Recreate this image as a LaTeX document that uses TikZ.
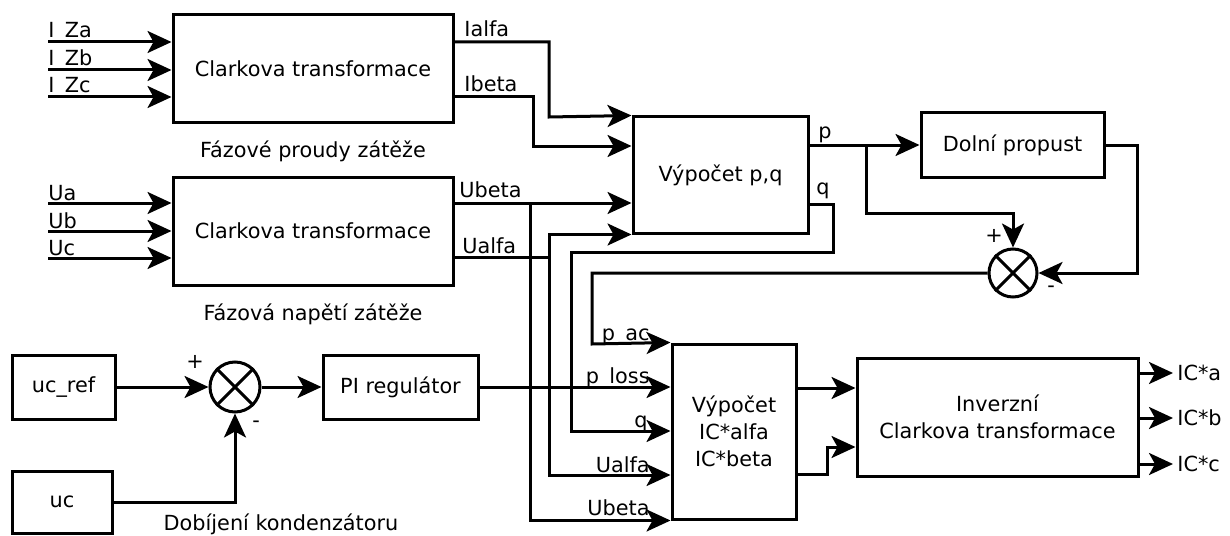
\documentclass[tikz,border=0pt]{standalone}
\usepackage{fontspec}
\setmainfont{DejaVu Sans}
\usetikzlibrary{arrows.meta,positioning}

\begin{document}
\begin{tikzpicture}[
	x=0.5pt, y=-0.5pt,
	font=\fontsize{10.4}{13.5}\selectfont,
	block/.style={ draw, line width=1.5pt, inner sep=2pt, align=center },
	summer/.style={ circle, draw, line width=1.5pt, inner sep=0pt, minimum size=24pt },
	sig/.style={ line width=1.5pt, -{Stealth[length=12pt,width=11pt,inset=3pt]} },
	wire/.style={ line width=1.5pt },
	lbl/.style={ inner sep=0pt }
]

\useasboundingbox (0,0) rectangle (1230,535);

% Clarke blocks
\node at (313,68.5) (clarkI) [block,minimum width=140pt,minimum height=53.5pt] {Clarkova transformace};
\node (capI) [below=5pt of clarkI] {Fázové proudy zátěže};
\node at (313,231) (clarkU) [block,minimum width=140pt,minimum height=54pt] {Clarkova transformace};
\node (capU) [below=5pt of clarkU] {Fázová napětí zátěže};

\foreach \y/\lab [count=\i] in {42/I\_Za,70/I\_Zb,97/I\_Zc} {
	\coordinate (iz\i) at (48,\y);
	\node at (48,\y-4) (liz\i) [lbl,anchor=base west] {\lab};
	\draw[sig] (iz\i) -- (iz\i -| clarkI.west);
}
\foreach \y/\lab [count=\i] in {203/Ua,231/Ub,258/Uc} {
	\coordinate (u\i) at (48,\y);
	\node at (48,\y-3) (lu\i) [lbl,anchor=base west] {\lab};
	\draw[sig] (u\i) -- (u\i -| clarkU.west);
}

% p,q
\node at (720.5,175) (pq) [block,minimum width=87.5pt,minimum height=58pt] {Výpočet p,q};
\node at (1012.5,145) (lpf) [block,minimum width=91.5pt,minimum height=32pt] {Dolní propust};
\node at (1013,273) (sumP) [summer] {};
\draw[wire] (sumP.45) -- (sumP.225) (sumP.135) -- (sumP.315);
\node at (994,236) (plusP) {+};
\node at (1051,289) (minusP) {-};

\draw[sig] (clarkI.east |- 0,42) -| (549,117) -- (pq.north west);
\node at (464,37) (lialfa) [lbl,anchor=base west] {Ialfa};
\draw[sig] (clarkI.east |- 0,97) -| (533,146) -- (pq.west |- 0,146);
\node at (464,91) (libeta) [lbl,anchor=base west] {Ibeta};
\draw[sig] (clarkU.east |- 0,203) -- (pq.west |- 0,203);
\node at (459,197) (lubeta) [lbl,anchor=base west] {Ubeta};
\draw[wire] (clarkU.east |- 0,257) -- (549,257);
\node at (462,253) (lualfa) [lbl,anchor=base west] {Ualfa};
\draw[sig] (549,257) |- (pq.south west);

\draw[sig] (pq.east |- lpf.west) -- (lpf.west);
\node at (818,138) (lp) [lbl,anchor=base west] {p};
\draw[sig] (866,145) |- (1013,213) -- (sumP.north);
\draw[sig] (lpf.east) -| (1137,273) -- (sumP.east);

% capacitor loop
\node at (63.5,387) (ucref) [block,minimum width=51.5pt,minimum height=32pt] {uc\_ref};
\node at (62,502) (uc) [block,minimum width=50pt,minimum height=31pt] {uc};
\node at (235,387) (sumU) [summer,minimum size=25pt] {};
\draw[wire] (sumU.45) -- (sumU.225) (sumU.135) -- (sumU.315);
\node at (195,362) (plusU) {+};
\node at (256,424) (minusU) {-};
\node at (400.5,387) (pi) [block,minimum width=77.5pt,minimum height=32pt] {PI regulátor};
\node at (281,524) (capD) {Dobíjení kondenzátoru};
\draw[sig] (ucref.east) -- (sumU.west);
\draw[sig] (uc.east) -| (sumU.south);
\draw[sig] (sumU.east) -- (pi.west);

% compensation current
\node at (734,431.5) (icalc) [block,minimum width=62pt,minimum height=87.5pt] {Výpočet\\IC*alfa\\IC*beta};
\node at (997.5,417) (inv) [block,minimum width=140.5pt,minimum height=59pt] {Inverzní\\Clarkova transformace};

\draw[sig] (sumP.west) -| (592,344) -- (icalc.north west);
\node at (650,340) (lpac) [lbl,anchor=base east] {p\_ac};
\draw[sig] (pi.east) -- (pi.east -| icalc.west);
\node at (650,383) (lploss) [lbl,anchor=base east] {p\_loss};
\draw[sig] (pq.east |- 0,204) -| (833,252) -| (571,431) -- (icalc.west |- 0,431);
\node at (816,194) (lq) [lbl,anchor=base west] {q};
\node at (648,427) (lq2) [lbl,anchor=base east] {q};
\draw[sig] (clarkU.east |- 0,257) -| (549,475) -- (icalc.west |- 0,475);
\node at (650,472) (lua2) [lbl,anchor=base east] {Ualfa};
\draw[sig] (530,203) |- (icalc.south west);
\node at (650,515) (lub2) [lbl,anchor=base east] {Ubeta};

\draw[sig] (icalc.east |- 0,388) -- (inv.west |- 0,388);
\draw[sig] (icalc.east |- 0,474) -| (827,447) -- (inv.west |- 0,447);

\foreach \y/\lab [count=\i] in {373/IC*a,418/IC*b,464/IC*c} {
	\coordinate (ic\i) at (1173,\y);
	\draw[sig] (inv.east |- ic\i) -- (ic\i);
	\node at (ic\i) (lic\i) [anchor=west,inner sep=2pt] {\lab};
}

\end{tikzpicture}
\end{document}
